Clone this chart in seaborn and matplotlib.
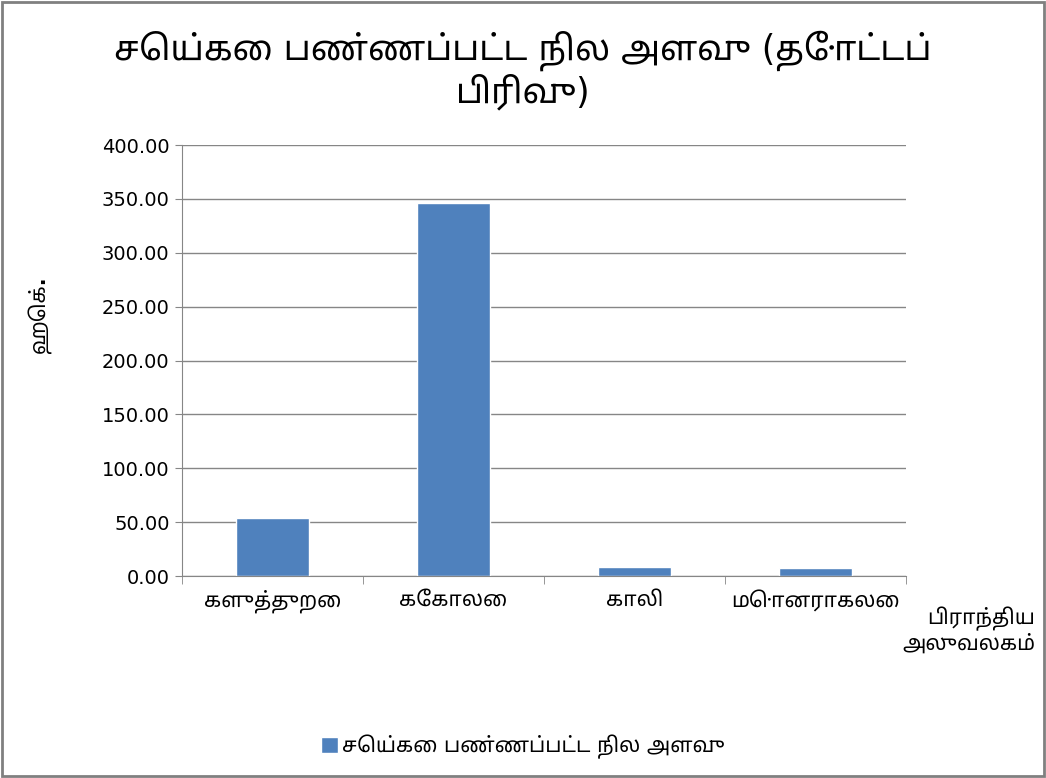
import numpy as np
import matplotlib
matplotlib.use("Agg")
import matplotlib.pyplot as plt
import seaborn as sns
from matplotlib import font_manager
from matplotlib.ft2font import FT2Font
from matplotlib.patches import Rectangle

regions = ["களுத்துறை", "கேகாலை", "காலி", "மொனராகலை"]
area_ha = [54.0, 346.0, 8.7, 7.5]
y_ticks = [0, 50, 100, 150, 200, 250, 300, 350, 400]
title = "செய்கை பண்ணப்பட்ட நில அளவு (தோட்டப்\nபிரிவு)"
series_name = "செய்கை பண்ணப்பட்ட நில அளவு"
x_label = "பிராந்திய\nஅலுவலகம்"
y_label = "ஹெக்."

# fonts that have tamil glyphs, prefer a proportional sans one
candidates = []
for f in font_manager.fontManager.ttflist:
    try:
        if FT2Font(f.fname).get_char_index(0x0B95):
            candidates.append(f.name)
    except Exception:
        pass

def rank(name):
    n = name.lower()
    if "tamil" in n and "mono" not in n:
        return 0
    if "mono" in n or "code" in n:
        return 4
    if "sans" in n:
        return 1
    if "serif" in n:
        return 2
    return 3

candidates = sorted(set(candidates), key=rank)

sns.set_style("white")
plt.rcParams["font.family"] = ["DejaVu Sans"] + candidates[:1]
plt.rcParams["text.color"] = "black"
plt.rcParams["xtick.labelcolor"] = "black"
plt.rcParams["ytick.labelcolor"] = "black"

bar_color = "#4F81BD"
grid_color = "#868686"

fig = plt.figure(figsize=(10.46, 7.78), dpi=100)
ax = fig.add_axes([0.174, 0.2596, 0.692, 0.554])

sns.barplot(x=regions, y=area_ha, color=bar_color, width=0.4, ax=ax,
            label=series_name, saturation=1)

ax.set_ylim(0, 400)
ax.set_xlim(-0.5, 3.5)
ax.set_yticks(y_ticks)
ax.set_yticklabels([f"{v:.2f}" for v in y_ticks], fontsize=14)
ax.yaxis.grid(True, color=grid_color, linewidth=1)
ax.set_axisbelow(True)
for s in ["top", "right"]:
    ax.spines[s].set_visible(False)
for s in ["left", "bottom"]:
    ax.spines[s].set_color(grid_color)
ax.tick_params(axis="y", length=5, color=grid_color, direction="out", left=True, pad=4)
ax.set_xticks(range(len(regions)))
ax.set_xticklabels(regions, fontsize=15)
ax.tick_params(axis="x", length=0, pad=10)
ax.set_xticks(np.arange(-0.5, len(regions), 1), minor=True)
ax.tick_params(axis="x", which="minor", length=6, color=grid_color, bottom=True)

ax.set_xlabel("")
ax.set_ylabel("")
fig.text(0.99, 0.19, x_label, ha="right", va="center", fontsize=15,
         fontweight="bold", multialignment="right")
fig.text(0.038, 0.595, y_label, ha="center", va="center", rotation=90,
         fontsize=15, fontweight="bold")
fig.text(0.5, 0.91, title, ha="center", va="center", fontsize=25,
         linespacing=1.1)

leg = ax.legend(loc="center", bbox_to_anchor=(0.5, 0.04), bbox_transform=fig.transFigure,
                frameon=False, fontsize=15, handlelength=0.8, handleheight=0.8,
                handletextpad=0.2)

fig.patches.append(Rectangle((0.002, 0.002), 0.996, 0.996, transform=fig.transFigure,
                             fill=False, edgecolor="#808080", linewidth=2))

fig.savefig("out.png", dpi=100)
